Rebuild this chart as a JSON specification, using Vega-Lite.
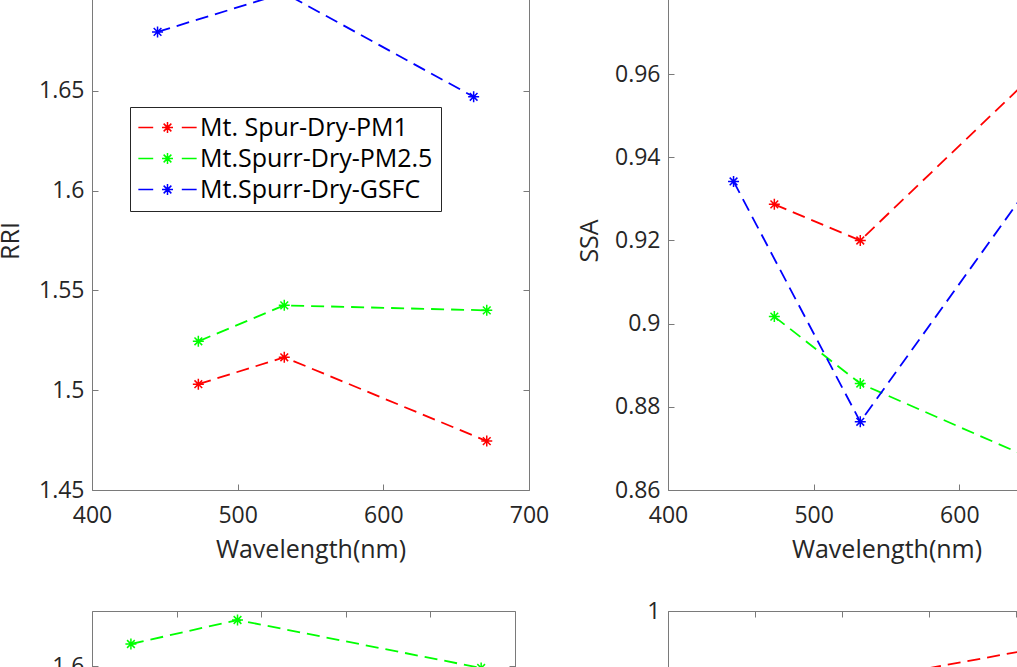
{
  "$schema": "https://vega.github.io/schema/vega-lite/v6.json",
  "autosize": {"type": "none"},
  "padding": {"left": 92, "top": -9, "right": 925, "bottom": 676},
  "background": "white",
  "datasets": {
    "optics": [
      {"panel": "RRI", "series": "Mt. Spur-Dry-PM1", "wl": 473, "val": 1.503},
      {"panel": "RRI", "series": "Mt. Spur-Dry-PM1", "wl": 532, "val": 1.5165},
      {"panel": "RRI", "series": "Mt. Spur-Dry-PM1", "wl": 671, "val": 1.4745},
      {"panel": "RRI", "series": "Mt.Spurr-Dry-PM2.5", "wl": 473, "val": 1.5245},
      {"panel": "RRI", "series": "Mt.Spurr-Dry-PM2.5", "wl": 532, "val": 1.5425},
      {"panel": "RRI", "series": "Mt.Spurr-Dry-PM2.5", "wl": 671, "val": 1.54},
      {"panel": "RRI", "series": "Mt.Spurr-Dry-GSFC", "wl": 445, "val": 1.6795},
      {"panel": "RRI", "series": "Mt.Spurr-Dry-GSFC", "wl": 532, "val": 1.699},
      {"panel": "RRI", "series": "Mt.Spurr-Dry-GSFC", "wl": 662, "val": 1.647},
      {"panel": "SSA", "series": "Mt. Spur-Dry-PM1", "wl": 473, "val": 0.9287},
      {"panel": "SSA", "series": "Mt. Spur-Dry-PM1", "wl": 532, "val": 0.92},
      {"panel": "SSA", "series": "Mt. Spur-Dry-PM1", "wl": 671, "val": 0.9666},
      {"panel": "SSA", "series": "Mt.Spurr-Dry-PM2.5", "wl": 473, "val": 0.9017},
      {"panel": "SSA", "series": "Mt.Spurr-Dry-PM2.5", "wl": 532, "val": 0.8856},
      {"panel": "SSA", "series": "Mt.Spurr-Dry-PM2.5", "wl": 671, "val": 0.8643},
      {"panel": "SSA", "series": "Mt.Spurr-Dry-GSFC", "wl": 445, "val": 0.9342},
      {"panel": "SSA", "series": "Mt.Spurr-Dry-GSFC", "wl": 532, "val": 0.8764},
      {"panel": "SSA", "series": "Mt.Spurr-Dry-GSFC", "wl": 662, "val": 0.9398},
      {"panel": "C", "series": "Mt.Spurr-Dry-PM2.5", "wl": 423, "val": 1.622},
      {"panel": "C", "series": "Mt.Spurr-Dry-PM2.5", "wl": 486, "val": 1.646},
      {"panel": "C", "series": "Mt.Spurr-Dry-PM2.5", "wl": 630, "val": 1.598},
      {"panel": "D", "series": "Mt. Spur-Dry-PM1", "wl": 473, "val": 0.96},
      {"panel": "D", "series": "Mt. Spur-Dry-PM1", "wl": 532, "val": 0.9748},
      {"panel": "D", "series": "Mt. Spur-Dry-PM1", "wl": 671, "val": 0.9925}
    ]
  },
  "columns": 2,
  "spacing": {"column": 139, "row": 121},
  "bounds": "flush",
  "resolve": {"scale": {"color": "shared"}, "legend": {"color": "shared"}},
  "concat": [
    {
      "width": 437,
      "height": 499,
      "data": {"name": "optics"},
      "transform": [{"filter": "datum.panel == 'RRI'"}],
      "resolve": {"axis": {"x": "independent", "y": "independent"}},
      "layer": [
        {
          "mark": {"type": "line", "strokeDash": [13, 7], "strokeWidth": 1.8, "clip": true},
          "encoding": {
            "x": {"field": "wl", "type": "quantitative", "scale": {"domain": [400, 700], "nice": false},
                  "axis": {"title": "Wavelength(nm)", "values": [400, 500, 600, 700], "orient": "bottom"}},
            "y": {"field": "val", "type": "quantitative", "scale": {"domain": [1.45, 1.7], "nice": false, "zero": false},
                  "axis": {"title": "RRI", "titlePadding": 15, "values": [1.45, 1.5, 1.55, 1.6, 1.65, 1.7], "orient": "left", "labelExpr": "format(datum.value, '~g')"}},
            "color": {"field": "series", "type": "nominal",
                      "scale": {"domain": ["Mt. Spur-Dry-PM1", "Mt.Spurr-Dry-PM2.5", "Mt.Spurr-Dry-GSFC"], "range": ["#ff0000", "#00ff00", "#0000ff"]}}
          }
        },
        {
          "mark": {"type": "point", "shape": "M-1,0L1,0M0,-1L0,1M-0.7,-0.7L0.7,0.7M-0.7,0.7L0.7,-0.7", "size": 121, "filled": false, "strokeWidth": 1.5, "opacity": 1},
          "encoding": {
            "x": {"field": "wl", "type": "quantitative",
                  "axis": {"orient": "top", "labels": false, "title": null, "values": [400, 500, 600, 700]}},
            "y": {"field": "val", "type": "quantitative",
                  "axis": {"orient": "right", "labels": false, "title": null, "values": [1.45, 1.5, 1.55, 1.6, 1.65, 1.7]}},
            "color": {"field": "series", "type": "nominal"}
          }
        }
      ]
    },
    {
      "width": 437,
      "height": 499,
      "data": {"name": "optics"},
      "transform": [{"filter": "datum.panel == 'SSA'"}],
      "resolve": {"axis": {"x": "independent", "y": "independent"}},
      "layer": [
        {
          "mark": {"type": "line", "strokeDash": [13, 7], "strokeWidth": 1.8, "clip": true},
          "encoding": {
            "x": {"field": "wl", "type": "quantitative", "scale": {"domain": [400, 700], "nice": false},
                  "axis": {"title": "Wavelength(nm)", "values": [400, 500, 600, 700], "orient": "bottom"}},
            "y": {"field": "val", "type": "quantitative", "scale": {"domain": [0.86, 0.98], "nice": false, "zero": false},
                  "axis": {"title": "SSA", "titlePadding": 12, "values": [0.86, 0.88, 0.9, 0.92, 0.94, 0.96, 0.98], "orient": "left", "labelExpr": "format(datum.value, '~g')"}},
            "color": {"field": "series", "type": "nominal"}
          }
        },
        {
          "mark": {"type": "point", "shape": "M-1,0L1,0M0,-1L0,1M-0.7,-0.7L0.7,0.7M-0.7,0.7L0.7,-0.7", "size": 121, "filled": false, "strokeWidth": 1.5, "opacity": 1},
          "encoding": {
            "x": {"field": "wl", "type": "quantitative",
                  "axis": {"orient": "top", "labels": false, "title": null, "values": [400, 500, 600, 700]}},
            "y": {"field": "val", "type": "quantitative",
                  "axis": {"orient": "right", "labels": false, "title": null, "values": [0.86, 0.88, 0.9, 0.92, 0.94, 0.96, 0.98]}},
            "color": {"field": "series", "type": "nominal"}
          }
        }
      ]
    },
    {
      "width": 423,
      "height": 455,
      "data": {"name": "optics"},
      "transform": [{"filter": "datum.panel == 'C'"}],
      "resolve": {"axis": {"x": "independent", "y": "independent"}},
      "layer": [
        {
          "mark": {"type": "line", "strokeDash": [13, 7], "strokeWidth": 1.8, "clip": true},
          "encoding": {
            "x": {"field": "wl", "type": "quantitative", "scale": {"domain": [400, 650], "nice": false},
                  "axis": {"title": null, "values": [400, 450, 500, 550, 600, 650], "orient": "bottom"}},
            "y": {"field": "val", "type": "quantitative", "scale": {"domain": [1.2, 1.655], "nice": false, "zero": false},
                  "axis": {"title": null, "values": [1.2, 1.3, 1.4, 1.5, 1.6], "orient": "left", "labelExpr": "format(datum.value, '~g')"}},
            "color": {"field": "series", "type": "nominal"}
          }
        },
        {
          "mark": {"type": "point", "shape": "M-1,0L1,0M0,-1L0,1M-0.7,-0.7L0.7,0.7M-0.7,0.7L0.7,-0.7", "size": 121, "filled": false, "strokeWidth": 1.5, "opacity": 1},
          "encoding": {
            "x": {"field": "wl", "type": "quantitative",
                  "axis": {"orient": "top", "labels": false, "title": null, "values": [400, 450, 500, 550, 600, 650]}},
            "y": {"field": "val", "type": "quantitative",
                  "axis": {"orient": "right", "labels": false, "title": null, "values": [1.2, 1.3, 1.4, 1.5, 1.6]}},
            "color": {"field": "series", "type": "nominal"}
          }
        }
      ]
    },
    {
      "width": 522,
      "height": 499,
      "data": {"name": "optics"},
      "transform": [{"filter": "datum.panel == 'D'"}],
      "resolve": {"axis": {"x": "independent", "y": "independent"}},
      "layer": [
        {
          "mark": {"type": "line", "strokeDash": [13, 7], "strokeWidth": 1.8, "clip": true},
          "encoding": {
            "x": {"field": "wl", "type": "quantitative", "scale": {"domain": [400, 700], "nice": false},
                  "axis": {"title": null, "values": [400, 450, 500, 550, 600, 650, 700], "orient": "bottom"}},
            "y": {"field": "val", "type": "quantitative", "scale": {"domain": [0.8, 1], "nice": false, "zero": false},
                  "axis": {"title": null, "values": [0.8, 0.85, 0.9, 0.95, 1], "orient": "left", "labelExpr": "format(datum.value, '~g')"}},
            "color": {"field": "series", "type": "nominal"}
          }
        },
        {
          "mark": {"type": "point", "shape": "M-1,0L1,0M0,-1L0,1M-0.7,-0.7L0.7,0.7M-0.7,0.7L0.7,-0.7", "size": 121, "filled": false, "strokeWidth": 1.5, "opacity": 1},
          "encoding": {
            "x": {"field": "wl", "type": "quantitative",
                  "axis": {"orient": "top", "labels": false, "title": null, "values": [400, 450, 500, 550, 600, 650, 700]}},
            "y": {"field": "val", "type": "quantitative",
                  "axis": {"orient": "right", "labels": false, "title": null, "values": [0.8, 0.85, 0.9, 0.95, 1]}},
            "color": {"field": "series", "type": "nominal"}
          }
        }
      ]
    }
  ],
  "config": {
    "font": "Open Sans",
    "view": {"stroke": "#7a7a7a", "strokeWidth": 1},
    "axis": {
      "grid": false,
      "domain": false,
      "tickColor": "#7a7a7a",
      "tickSize": -6,
      "tickWidth": 1,
      "labelFlush": false,
      "labelOverlap": false,
      "labelFont": "Open Sans",
      "labelFontSize": 23,
      "labelColor": "#262626",
      "titleFont": "Open Sans",
      "titleFontSize": 25,
      "titleFontWeight": "normal",
      "titleColor": "#262626"
    },
    "axisX": {"labelPadding": 20, "titlePadding": 10},
    "axisY": {"labelPadding": 14},
    "legend": {
      "orient": "none",
      "legendX": 38,
      "legendY": 116,
      "title": null,
      "strokeColor": "#262626",
      "fillColor": "white",
      "padding": 8,
      "labelFont": "Open Sans",
      "labelFontSize": 25,
      "labelColor": "#000000",
      "labelLimit": 0,
      "labelOffset": 20,
      "rowPadding": 5,
      "symbolOffset": 17,
      "symbolType": "M-5.3,0L-2.6,0M-1,0L1,0M0,-1L0,1M-0.7,-0.7L0.7,0.7M-0.7,0.7L0.7,-0.7M2.6,0L5.3,0",
      "symbolSize": 121,
      "symbolStrokeWidth": 1.5,
      "symbolDash": []
    }
  }
}
